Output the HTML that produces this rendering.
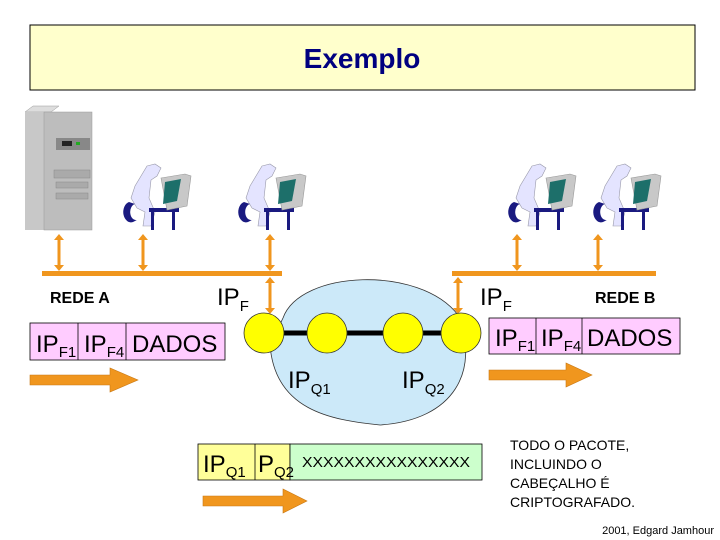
<!DOCTYPE html>
<html><head><meta charset="utf-8"><style>
html,body{margin:0;padding:0;background:#fff;}
svg{display:block;font-family:"Liberation Sans",sans-serif;}
</style></head><body>
<svg width="720" height="540" viewBox="0 0 720 540" xmlns="http://www.w3.org/2000/svg">
<defs>
<g id="person">
  <path d="M22 2 l8 -2 l6 4 l-4 8 l-6 4 l-2 18 l6 14 l-4 14 h-8 l2 -14 l-8 -4 l-6 -10 l4 -12 z" fill="#e4e4ff" stroke="#99a" stroke-width="0.6"/>
  <path d="M4 38 a6 8 0 0 0 4 20 l4 -2 a5 7 0 0 1 -2 -16 z" fill="#1a1a80"/>
  <path d="M24 44 h30 v4 h-4 v18 h-3 v-18 h-18 v18 h-3 v-18 h-2z" fill="#1a1a80"/>
  <path d="M36 14 l24 -4 l6 2 l-4 30 l-20 4 z" fill="#c8c8c8" stroke="#999" stroke-width="0.6"/>
  <path d="M40 18 l16 -3 l-4 22 l-14 3 z" fill="#1d6f6a"/>
</g>
</defs>
<rect x="30" y="25" width="665" height="65" fill="#ffffcc" stroke="#000" stroke-width="1"/>
<text x="362" y="68" text-anchor="middle" font-size="28" font-weight="bold" fill="#000080">Exemplo</text>

<!-- server -->
<path d="M25 112 l8 -6 h26 l-8 6z" fill="#ddd" stroke="#999" stroke-width="0.5"/>
<rect x="25" y="112" width="26" height="118" fill="#c8c8c8"/>
<rect x="44" y="112" width="48" height="118" fill="#bdbdbd" stroke="#999" stroke-width="0.5"/>
<rect x="56" y="138" width="34" height="12" fill="#888"/>
<rect x="62" y="141" width="10" height="5" fill="#222"/>
<rect x="76" y="142" width="4" height="3" fill="#2a2"/>
<rect x="54" y="170" width="36" height="8" fill="#aaa" stroke="#888" stroke-width="0.5"/>
<rect x="56" y="182" width="32" height="6" fill="#aaa" stroke="#888" stroke-width="0.5"/>
<rect x="56" y="193" width="32" height="6" fill="#aaa" stroke="#888" stroke-width="0.5"/>

<use href="#person" x="125" y="164"/>
<use href="#person" x="240" y="164"/>
<use href="#person" x="510" y="164"/>
<use href="#person" x="595" y="164"/>

<!-- network lines -->
<g fill="#f0961e" stroke="none">
<rect x="42" y="271" width="240" height="5"/>
<rect x="452" y="271" width="204" height="5"/>
</g>
<g stroke="#f0961e" stroke-width="3" fill="#f0961e">
<line x1="59" y1="239" x2="59" y2="266"/><line x1="143" y1="239" x2="143" y2="266"/><line x1="270" y1="239" x2="270" y2="266"/>
<line x1="270" y1="282" x2="270" y2="309"/><line x1="458" y1="282" x2="458" y2="309"/>
<line x1="517" y1="239" x2="517" y2="266"/><line x1="598" y1="239" x2="598" y2="266"/>
</g>
<g fill="#f0961e">
<path d="M54 240 l5 -6 l5 6z M54 265 l5 6 l5 -6z"/>
<path d="M138 240 l5 -6 l5 6z M138 265 l5 6 l5 -6z"/>
<path d="M265 240 l5 -6 l5 6z M265 265 l5 6 l5 -6z"/>
<path d="M265 283 l5 -6 l5 6z M265 308 l5 6 l5 -6z"/>
<path d="M453 283 l5 -6 l5 6z M453 308 l5 6 l5 -6z"/>
<path d="M512 240 l5 -6 l5 6z M512 265 l5 6 l5 -6z"/>
<path d="M593 240 l5 -6 l5 6z M593 265 l5 6 l5 -6z"/>
</g>

<text x="50" y="303" font-size="16" font-weight="bold">REDE A</text>
<text x="595" y="303" font-size="16" font-weight="bold">REDE B</text>
<text x="217" y="305" font-size="24">IP<tspan font-size="15" dy="6">F</tspan></text>
<text x="480" y="305" font-size="24">IP<tspan font-size="15" dy="6">F</tspan></text>

<!-- cloud -->
<path d="M283 318 C300 270 420 265 458 315 C480 370 455 420 380 425 C330 420 275 410 270 345 Z" fill="#cce9f9" stroke="#333" stroke-width="0.8"/>
<line x1="264" y1="333" x2="461" y2="333" stroke="#000" stroke-width="5"/>
<g fill="#ffff00" stroke="#333" stroke-width="0.8">
<circle cx="264" cy="333" r="20"/><circle cx="327" cy="333" r="20"/><circle cx="403" cy="333" r="20"/><circle cx="461" cy="333" r="20"/>
</g>
<text x="288" y="388" font-size="24">IP<tspan font-size="15" dy="6">Q1</tspan></text>
<text x="402" y="388" font-size="24">IP<tspan font-size="15" dy="6">Q2</tspan></text>

<!-- packet A -->
<rect x="30" y="323" width="195" height="37" fill="#ffccff" stroke="#000" stroke-width="0.8"/>
<line x1="78" y1="323" x2="78" y2="360" stroke="#000" stroke-width="0.8"/>
<line x1="126" y1="323" x2="126" y2="360" stroke="#000" stroke-width="0.8"/>
<text x="36" y="352" font-size="24">IP<tspan font-size="15" dy="5">F1</tspan></text>
<text x="84" y="352" font-size="24">IP<tspan font-size="15" dy="5">F4</tspan></text>
<text x="132" y="352" font-size="24">DADOS</text>

<!-- packet B -->
<rect x="489" y="318" width="191" height="36" fill="#ffccff" stroke="#000" stroke-width="0.8"/>
<line x1="536" y1="318" x2="536" y2="354" stroke="#000" stroke-width="0.8"/>
<line x1="582" y1="318" x2="582" y2="354" stroke="#000" stroke-width="0.8"/>
<text x="495" y="346" font-size="24">IP<tspan font-size="15" dy="5">F1</tspan></text>
<text x="541" y="346" font-size="24">IP<tspan font-size="15" dy="5">F4</tspan></text>
<text x="587" y="346" font-size="24">DADOS</text>

<!-- arrows -->
<g fill="#f0961e" stroke="#c87814" stroke-width="0.6">
<path d="M30 375 h80 v-7 l28 12 l-28 12 v-7 h-80z"/>
<path d="M489 370 h77 v-7 l26 12 l-26 12 v-7 h-77z"/>
<path d="M203 496 h80 v-7 l24 12 l-24 12 v-7 h-80z"/>
</g>

<!-- packet Q -->
<rect x="198" y="444" width="92" height="36" fill="#ffff99" stroke="#000" stroke-width="0.8"/>
<line x1="255" y1="444" x2="255" y2="480" stroke="#000" stroke-width="0.8"/>
<rect x="290" y="444" width="192" height="36" fill="#ccffcc" stroke="#000" stroke-width="0.8"/>
<text x="203" y="472" font-size="24">IP<tspan font-size="15" dy="5">Q1</tspan></text>
<text x="258" y="472" font-size="24">P<tspan font-size="15" dy="5">Q2</tspan></text>
<text x="386" y="467" font-size="15" text-anchor="middle" textLength="168" lengthAdjust="spacingAndGlyphs">XXXXXXXXXXXXXXXX</text>

<g font-size="14">
<text x="510" y="450">TODO O PACOTE,</text>
<text x="510" y="469">INCLUINDO O</text>
<text x="510" y="488">CABEÇALHO É</text>
<text x="510" y="507">CRIPTOGRAFADO.</text>
</g>
<text x="714" y="534" font-size="11" text-anchor="end">2001, Edgard Jamhour</text>
</svg>
</body></html>
